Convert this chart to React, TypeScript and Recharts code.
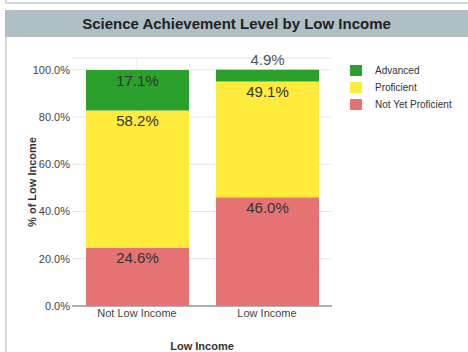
import { Bar, BarChart, CartesianGrid, Label, LabelList, XAxis, YAxis } from 'recharts'

const CATEGORIES = ['Not Low Income', 'Low Income']
const NOT_YET_PROFICIENT = [24.6, 46.0]
const PROFICIENT = [58.2, 49.1]
const ADVANCED = [17.1, 4.9]
const Y_TICKS = [0, 20, 40, 60, 80, 100]

const SERIES = [
  { key: 'notYet', name: 'Not Yet Proficient', color: '#e57373' },
  { key: 'proficient', name: 'Proficient', color: '#ffeb3b' },
  { key: 'advanced', name: 'Advanced', color: '#2ca02c' },
]

const data = CATEGORIES.map((name, i) => ({
  name,
  notYet: NOT_YET_PROFICIENT[i],
  proficient: PROFICIENT[i],
  advanced: ADVANCED[i],
}))

const FONT = '"Liberation Sans", Arial, sans-serif'
const FRAME = '#cfd8dc'

function SegmentLabel(props: any) {
  const { x, y, width, height, value } = props
  const fits = height >= 20
  return (
    <text
      x={x + width / 2}
      y={fits ? y + 10 : y - 10}
      textAnchor="middle"
      dominantBaseline="central"
      fontSize={15}
      fontFamily={FONT}
      fill={fits ? '#333' : '#555'}
    >
      {Number(value).toFixed(1)}%
    </text>
  )
}

function LegendBox() {
  return (
    <div style={{ position: 'absolute', left: 350, top: 62, fontFamily: FONT, fontSize: 10, color: '#333' }}>
      {[...SERIES].reverse().map((s) => (
        <div key={s.key} style={{ display: 'flex', alignItems: 'center', height: 17 }}>
          <span style={{ width: 12, height: 11, background: s.color, marginRight: 13 }} />
          <span>{s.name}</span>
        </div>
      ))}
    </div>
  )
}

// vertical grid only at the category centres, no lines on the plot edges
const bandCenters = ({ offset }: any) =>
  CATEGORIES.map((_, i) => offset.left + (offset.width * (i + 0.5)) / CATEGORIES.length)

export default function App() {
  return (
    <div style={{ position: 'absolute', left: 0, top: 0, width: 468, height: 352, background: '#fff', overflow: 'hidden', fontFamily: FONT }}>
      <div style={{ position: 'absolute', left: 5, top: -2, right: -2, height: 4, borderLeft: `2px solid ${FRAME}`, borderBottom: `2px solid ${FRAME}` }} />
      <div
        style={{
          position: 'absolute',
          left: 5,
          top: 10,
          width: 463,
          height: 27,
          background: '#b0bec5',
          color: '#222',
          fontWeight: 'bold',
          fontSize: 15,
          lineHeight: '27px',
          textAlign: 'center',
        }}
      >
        Science Achievement Level by Low Income
      </div>
      <div style={{ position: 'absolute', left: 5, top: 37, width: 2, height: 315, background: FRAME, zIndex: 2 }} />
      <div style={{ position: 'absolute', left: 0, top: 37 }}>
        <BarChart width={468} height={315} data={data} margin={{ top: 21, right: 136, left: 0, bottom: 0 }}>
          <CartesianGrid stroke="#e6e6e6" verticalCoordinatesGenerator={bandCenters} />
          <XAxis
            dataKey="name"
            height={46}
            tickLine={false}
            tickSize={0}
            tickMargin={3}
            axisLine={{ stroke: '#999', strokeWidth: 1.5 }}
            tick={{ fontSize: 11, fill: '#444', fontFamily: FONT }}
          >
            <Label
              content={({ viewBox }: any) => (
                <text
                  x={viewBox.x + viewBox.width / 2}
                  y={viewBox.y + 40}
                  textAnchor="middle"
                  dominantBaseline="central"
                  fontSize={11}
                  fontWeight="bold"
                  fontFamily={FONT}
                  fill="#333"
                >
                  Low Income
                </text>
              )}
            />
          </XAxis>
          <YAxis
            width={72}
            domain={[0, 105]}
            ticks={Y_TICKS}
            axisLine={false}
            tickLine={false}
            tickSize={0}
            tickMargin={2}
            tickFormatter={(v: number) => `${v.toFixed(1)}%`}
            tick={{ fontSize: 11, fill: '#444', fontFamily: FONT }}
          >
            <Label
              content={({ viewBox }: any) => (
                <text
                  transform={`translate(${viewBox.x + 32}, ${viewBox.y + viewBox.height / 2}) rotate(-90)`}
                  textAnchor="middle"
                  dominantBaseline="central"
                  fontSize={11}
                  fontWeight="bold"
                  fontFamily={FONT}
                  fill="#333"
                >
                  % of Low Income
                </text>
              )}
            />
          </YAxis>
          {SERIES.map((s) => (
            <Bar key={s.key} dataKey={s.key} name={s.name} stackId="a" fill={s.color} barSize={103} isAnimationActive={false}>
              <LabelList dataKey={s.key} content={SegmentLabel} />
            </Bar>
          ))}
        </BarChart>
      </div>
      <LegendBox />
    </div>
  )
}
